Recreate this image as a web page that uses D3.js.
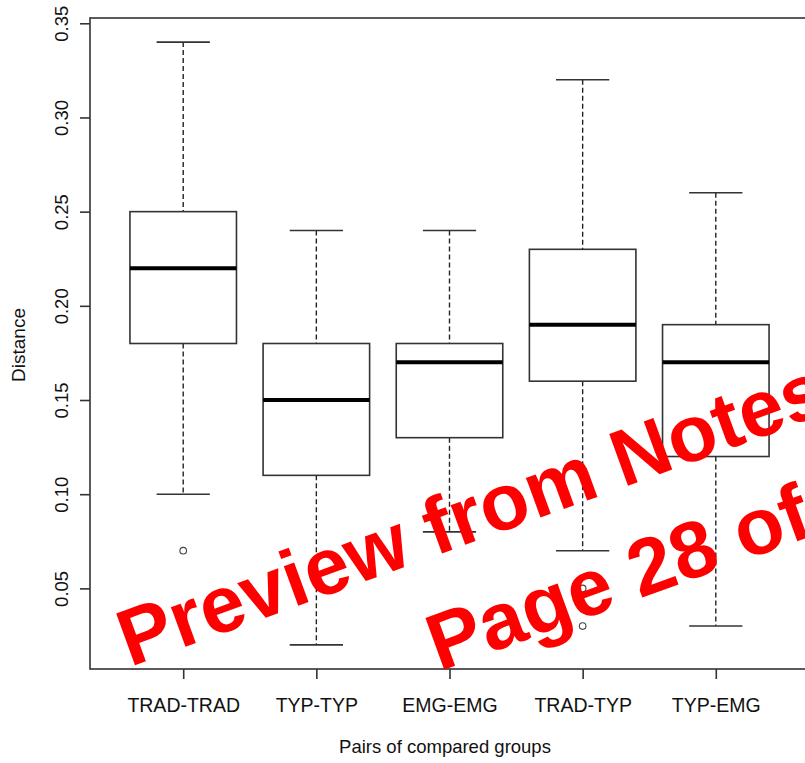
<!DOCTYPE html>
<html>
<head>
<meta charset="utf-8">
<script src="https://cdn.jsdelivr.net/npm/d3@7"></script>
<style>
  body { margin: 0; background: #fff; }
  svg { display: block; }
  text { font-family: "Liberation Sans", Arial, sans-serif; fill: #111; }
</style>
</head>
<body>
<script>
// boxplot stats
var groups = ["TRAD-TRAD", "TYP-TYP", "EMG-EMG", "TRAD-TYP", "TYP-EMG"];
var whiskerLow  = [0.10, 0.02, 0.08, 0.07, 0.03];
var q1          = [0.18, 0.11, 0.13, 0.16, 0.12];
var median      = [0.22, 0.15, 0.17, 0.19, 0.17];
var q3          = [0.25, 0.18, 0.18, 0.23, 0.19];
var whiskerHigh = [0.34, 0.24, 0.24, 0.32, 0.26];
var outliers    = [[0.07], [], [], [0.05, 0.04, 0.03], []];
var yTicks = [0.05, 0.10, 0.15, 0.20, 0.25, 0.30, 0.35];

var width = 805,
    height = 763;

var boxes = groups.map(function(g, i) {
  return {name: g, pos: i + 1, lo: whiskerLow[i], q1: q1[i], med: median[i],
          q3: q3[i], hi: whiskerHigh[i], out: outliers[i]};
});

// R style ranges: +-0.5 around groups, then 4% extra
var x = d3.scaleLinear().domain([0.3, 5.7]).range([90, 809]);
var y = d3.scaleLinear().domain([0.0072, 0.3528]).range([669, 18]);

var svg = d3.select("body").append("svg")
    .attr("width", width)
    .attr("height", height);

var boxW = (x(1.4) - x(1)),   // half box width (boxwex 0.8)
    capW = boxW / 2;

var g = svg.append("g").selectAll("g")
    .data(boxes)
  .enter().append("g");

// whiskers
g.append("line")
    .attr("x1", function(d) { return x(d.pos); })
    .attr("x2", function(d) { return x(d.pos); })
    .attr("y1", function(d) { return y(d.hi); })
    .attr("y2", function(d) { return y(d.q3); })
    .style("stroke", "#222").style("stroke-width", 1.4)
    .style("stroke-dasharray", "5,3");
g.append("line")
    .attr("x1", function(d) { return x(d.pos); })
    .attr("x2", function(d) { return x(d.pos); })
    .attr("y1", function(d) { return y(d.q1); })
    .attr("y2", function(d) { return y(d.lo); })
    .style("stroke", "#222").style("stroke-width", 1.4)
    .style("stroke-dasharray", "5,3");

// caps
["hi", "lo"].forEach(function(k) {
  g.append("line")
      .attr("x1", function(d) { return x(d.pos) - capW; })
      .attr("x2", function(d) { return x(d.pos) + capW; })
      .attr("y1", function(d) { return y(d[k]); })
      .attr("y2", function(d) { return y(d[k]); })
      .style("stroke", "#333").style("stroke-width", 1.6);
});

// box
g.append("rect")
    .attr("x", function(d) { return x(d.pos) - boxW; })
    .attr("y", function(d) { return y(d.q3); })
    .attr("width", boxW * 2)
    .attr("height", function(d) { return y(d.q1) - y(d.q3); })
    .style("fill", "none").style("stroke", "#333").style("stroke-width", 1.6);

// median
g.append("line")
    .attr("x1", function(d) { return x(d.pos) - boxW; })
    .attr("x2", function(d) { return x(d.pos) + boxW; })
    .attr("y1", function(d) { return y(d.med); })
    .attr("y2", function(d) { return y(d.med); })
    .style("stroke", "#000").style("stroke-width", 4);

// outliers
g.selectAll("circle")
    .data(function(d) { return d.out.map(function(v) { return {pos: d.pos, v: v}; }); })
  .enter().append("circle")
    .attr("cx", function(d) { return x(d.pos); })
    .attr("cy", function(d) { return y(d.v); })
    .attr("r", 3.3)
    .style("fill", "none").style("stroke", "#444").style("stroke-width", 1.1);

// frame
svg.append("rect")
    .attr("x", x.range()[0]).attr("y", y.range()[1])
    .attr("width", x.range()[1] - x.range()[0])
    .attr("height", y.range()[0] - y.range()[1])
    .style("fill", "none").style("stroke", "#333").style("stroke-width", 1.6);

// y axis
var yAxis = svg.append("g")
    .attr("transform", "translate(" + x.range()[0] + ",0)")
    .call(d3.axisLeft(y).tickValues(yTicks).tickSize(10).tickSizeOuter(0)
      .tickFormat(d3.format(".2f")));
yAxis.select(".domain").remove();
yAxis.selectAll(".tick line").style("stroke", "#333").style("stroke-width", 1.6);
yAxis.selectAll(".tick text")
    .attr("x", null).attr("dy", null)
    .attr("transform", "translate(-22,0) rotate(-90)")
    .attr("text-anchor", "middle")
    .style("font-size", "18.5px");

// x axis
var xAxis = svg.append("g")
    .attr("transform", "translate(0," + y.range()[0] + ")")
    .call(d3.axisBottom(x).tickValues(boxes.map(function(d) { return d.pos; }))
      .tickSize(10).tickSizeOuter(0)
      .tickFormat(function(d) { return groups[d - 1]; }));
xAxis.select(".domain").remove();
xAxis.selectAll(".tick line").style("stroke", "#333").style("stroke-width", 1.6);
xAxis.selectAll(".tick text")
    .attr("y", 43).attr("dy", null)
    .style("font-size", "19.5px");

svg.selectAll(".tick text").style("fill", "#111").style("font-family", "'Liberation Sans', Arial, sans-serif");

// axis titles
svg.append("text")
    .attr("x", 445).attr("y", 753)
    .attr("text-anchor", "middle")
    .style("font-size", "18.5px")
    .text("Pairs of compared groups");

svg.append("text")
    .attr("transform", "translate(25,345) rotate(-90)")
    .attr("text-anchor", "middle")
    .style("font-size", "19px")
    .text("Distance");

// watermark over the chart, runs off the right edge like the reference
var wm = svg.append("g")
    .attr("transform", "translate(130,667) rotate(-20)")
    .style("font-family", "'Liberation Sans', Arial, sans-serif")
    .style("font-weight", "bold")
    .style("font-size", "80px");
wm.append("text").attr("x", 0).attr("y", 0)
    .style("fill", "#ff0000")
    .text("Preview from Notes");
wm.append("text").attr("x", 289).attr("y", 110)
    .style("fill", "#ff0000")
    .text("Page 28 of");
</script>
</body>
</html>
